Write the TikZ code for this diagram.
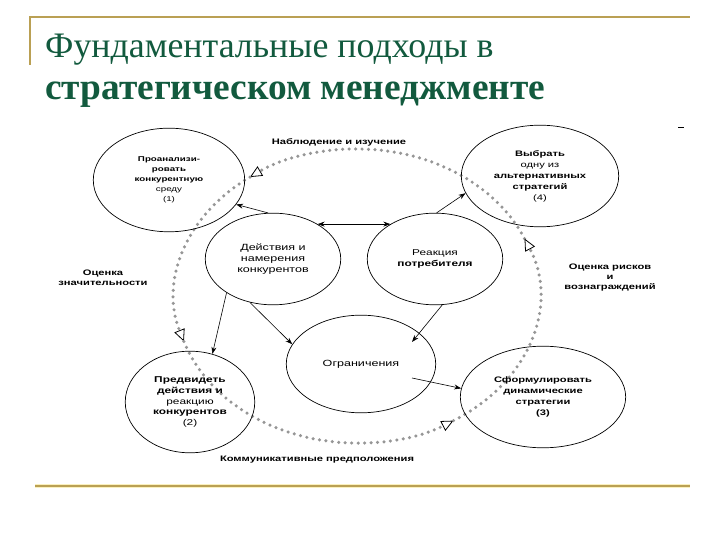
\documentclass[tikz,border=0pt]{standalone}
\usepackage{fontspec}
\setmainfont{Liberation Serif}
\newfontfamily\schemefont[FakeStretch=1.4]{Liberation Sans}
\usetikzlibrary{shapes.geometric, arrows.meta}

\definecolor{titlegreen}{RGB}{18,90,62}
\definecolor{rulegold}{RGB}{186,160,84}
\definecolor{ruleglow}{RGB}{250,240,190}
\definecolor{dotgray}{RGB}{150,150,150}

\begin{document}
\begin{tikzpicture}[x=1bp, y=1bp,
    stage/.style={draw, ellipse, inner sep=0pt, align=center, line width=0.7pt,
      font=\schemefont\fontsize{8}{11}\selectfont},
    link/.style={->, >={Stealth[length=7pt,width=5pt]}, line width=0.6pt},
    cycleline/.style={dotgray, line width=3.5pt, line cap=round, dash pattern=on 0pt off 6.5pt,
      -{Triangle[length=12pt,width=11pt,line width=0.8pt,color=black,fill=white]}},
    tag/.style={font=\schemefont\bfseries\fontsize{8}{10}\selectfont, align=center}]
\useasboundingbox (0,0) rectangle (720,540);

% slide frame
\draw[rulegold, line width=2pt] (30,475) -- (30,523) -- (690,523);
\draw[ruleglow, line width=5pt] (35,54) -- (690,54);
\draw[rulegold, line width=2pt] (35,54) -- (690,54);
\draw[line width=1pt] (678,412) -- (684,412);

% title
\node[anchor=base west, inner sep=0pt, text=titlegreen, font=\fontsize{36}{36}\selectfont]
  (title1) at (45,482) {Фундаментальные подходы в};
\node[anchor=base west, inner sep=0pt, text=titlegreen, font=\bfseries\fontsize{37.5}{37.5}\selectfont]
  (title2) at (45,440) {стратегическом менеджменте};

% outer cycle
\coordinate (hub) at (357,244);
\foreach \a/\b in {23/126, 126/198, 198/302, 302/383}
  \draw[cycleline] ([shift={(\a:182 and 147)}]hub)
    arc[start angle=\a, end angle=\b, x radius=182, y radius=147];

% stages
\node[stage, minimum width=152, minimum height=104, font=\schemefont\fontsize{7}{10}\selectfont]
  (analyze) at (169,360) {\textbf{Проанализи-}\\\textbf{ровать}\\\textbf{конкурентную}\\среду\\(1)};
\node[stage, minimum width=158, minimum height=102]
  (choose) at (540,364) {\textbf{Выбрать}\\одну из\\\textbf{альтернативных}\\\textbf{стратегий}\\(4)};
\node[stage, minimum width=136, minimum height=92, font=\schemefont\fontsize{9}{11}\selectfont]
  (rivals) at (273,281) {Действия и\\намерения\\конкурентов};
\node[stage, minimum width=136, minimum height=92, font=\schemefont\fontsize{8.5}{11}\selectfont]
  (buyers) at (435,281) {Реакция\\\textbf{потребителя}};
\node[stage, minimum width=150, minimum height=98, font=\schemefont\fontsize{9}{11}\selectfont]
  (limits) at (361,176) {Ограничения};
\node[stage, minimum width=130, minimum height=102, font=\schemefont\fontsize{8.5}{11}\selectfont]
  (predict) at (190,138) {\textbf{Предвидеть}\\\textbf{действия и}\\реакцию\\\textbf{конкурентов}\\(2)};
\node[stage, minimum width=166, minimum height=102]
  (formulate) at (543,143) {\textbf{Сформулировать}\\\textbf{динамические}\\\textbf{стратегии}\\\textbf{(3)}};

% links
\draw[link] (rivals.96) -- (analyze.340);
\draw[link, <->] (rivals.38) -- (buyers.142);
\draw[link] (buyers.88) -- (choose.193);
\draw[link] (rivals.216) -- (predict.65);
\draw[link] (rivals.242) -- (limits.164);
\draw[link] (buyers.279) -- ([shift={(51,22)}]limits.center);
\draw[link] ([shift={(51,-14)}]limits.center) -- (formulate.174);

% cycle labels
\node[tag] (observe) at (339,398) {Наблюдение и изучение};
\node[tag] (weigh) at (103,262) {Оценка\\значительности};
\node[tag] (risk) at (610,262) {Оценка рисков\\и\\вознаграждений};
\node[tag] (signal) at (317,80) {Коммуникативные предположения};
\end{tikzpicture}
\end{document}
